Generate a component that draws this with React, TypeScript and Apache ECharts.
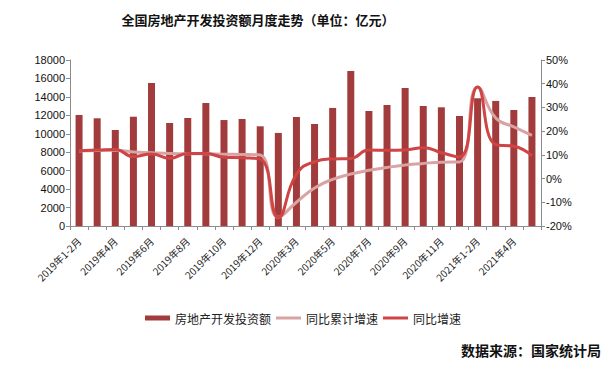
import React, { useEffect, useRef } from "react";
import * as echarts from "echarts";

const categories = [
  "2019年1-2月", "2019年3月", "2019年4月", "2019年5月", "2019年6月", "2019年7月",
  "2019年8月", "2019年9月", "2019年10月", "2019年11月", "2019年12月",
  "2020年1-2月", "2020年3月", "2020年4月", "2020年5月", "2020年6月", "2020年7月",
  "2020年8月", "2020年9月", "2020年10月", "2020年11月", "2020年12月",
  "2021年1-2月", "2021年3月", "2021年4月", "2021年5月",
];

const investment = [
  12040, 11680, 10410, 11850, 15510, 11170, 11710, 13340, 11490, 11600, 10810,
  10090, 11820, 11060, 12800, 16810, 12470, 13120, 14960, 13010, 12870, 11930,
  13850, 13560, 12580, 13990,
];

const cumulativeGrowth = [
  11.6, 11.8, 11.9, 11.2, 10.9, 10.6, 10.5, 10.5, 10.3, 10.2, 9.9,
  -16.3, -10.0, -4.0, -0.3, 1.9, 3.5, 4.7, 5.7, 6.4, 6.9, 7.0,
  38.6, 25.5, 21.8, 18.2,
];

const monthlyGrowth = [
  11.7, 12.0, 12.3, 9.3, 10.4, 8.6, 10.6, 10.6, 9.0, 8.8, 8.2,
  -16.3, 1.8, 7.1, 8.3, 8.5, 12.0, 11.9, 12.1, 13.0, 10.9, 9.1,
  38.6, 14.3, 13.6, 9.6,
];

const leftTicks = { min: 0, max: 18000, interval: 2000 };
const rightTicks = { min: -20, max: 50, interval: 10 };

export default function App() {
  const ref = useRef<HTMLDivElement>(null);
  useEffect(() => {
    if (!ref.current) return;
    const chart = echarts.init(ref.current, undefined, { renderer: "svg" });
    const axisLine = { show: true, lineStyle: { color: "#8c8c8c", width: 1 } };
    const lineIcon = "path://M0,0h25v3H0z";
    chart.setOption({
      animation: false,
      backgroundColor: "#ffffff",
      title: {
        text: "全国房地产开发投资额月度走势（单位：亿元）",
        left: 253,
        textAlign: "center",
        top: 8,
        textStyle: {
          fontFamily: "Noto Sans CJK SC",
          fontSize: 13,
          fontWeight: "bold",
          color: "#111",
        },
      },
      grid: { left: 70, right: 74, top: 60, bottom: 148 },
      legend: {
        left: 140,
        top: 307,
        itemGap: 5,
        itemWidth: 25,
        itemHeight: 5,
        symbolKeepAspect: true,
        textStyle: { fontFamily: "Noto Sans CJK SC", fontSize: 12, color: "#222" },
        data: [
          { name: "房地产开发投资额", icon: "rect" },
          { name: "同比累计增速", icon: lineIcon },
          { name: "同比增速", icon: lineIcon },
        ],
      },
      xAxis: {
        type: "category",
        data: categories,
        boundaryGap: true,
        axisLine,
        axisTick: { show: true, alignWithLabel: false, interval: 0, length: 4, lineStyle: { color: "#8c8c8c" } },
        axisLabel: {
          interval: 1,
          rotate: 45,
          fontSize: 10,
          color: "#222",
          fontFamily: "Noto Sans CJK SC",
          margin: 13,
        },
      },
      yAxis: [
        {
          type: "value",
          ...leftTicks,
          axisLine,
          axisTick: { show: true, length: 4, lineStyle: { color: "#8c8c8c" } },
          splitLine: { show: false },
          axisLabel: {
            fontSize: 11,
            color: "#111",
            fontFamily: "Liberation Sans",
            margin: 5,
            formatter: (v: number) => String(v),
          },
        },
        {
          type: "value",
          ...rightTicks,
          position: "right",
          axisLine,
          axisTick: { show: true, length: 4, lineStyle: { color: "#8c8c8c" } },
          splitLine: { show: false },
          axisLabel: {
            fontSize: 11,
            color: "#111",
            fontFamily: "Liberation Sans",
            margin: 5,
            formatter: "{value}%",
          },
        },
      ],
      series: [
        {
          name: "房地产开发投资额",
          type: "bar",
          data: investment,
          barWidth: 7,
          itemStyle: { color: "#a23b3b" },
        },
        {
          name: "同比累计增速",
          type: "line",
          yAxisIndex: 1,
          data: cumulativeGrowth,
          smooth: true,
          symbol: "none",
          lineStyle: { color: "#d9a3a3", width: 3 },
          itemStyle: { color: "#d9a3a3" },
        },
        {
          name: "同比增速",
          type: "line",
          yAxisIndex: 1,
          data: monthlyGrowth,
          smooth: true,
          symbol: "none",
          lineStyle: { color: "#cf4444", width: 3 },
          itemStyle: { color: "#cf4444" },
        },
      ],
      graphic: [
        {
          type: "text",
          right: 14,
          top: 343,
          style: {
            text: "数据来源：国家统计局",
            fontFamily: "Noto Sans CJK SC",
            fontSize: 14,
            fontWeight: "bold",
            fill: "#111",
          },
        },
      ],
    });
    return () => chart.dispose();
  }, []);
  return <div ref={ref} style={{ width: 615, height: 374, position: "absolute", left: 0, top: 0 }} />;
}
